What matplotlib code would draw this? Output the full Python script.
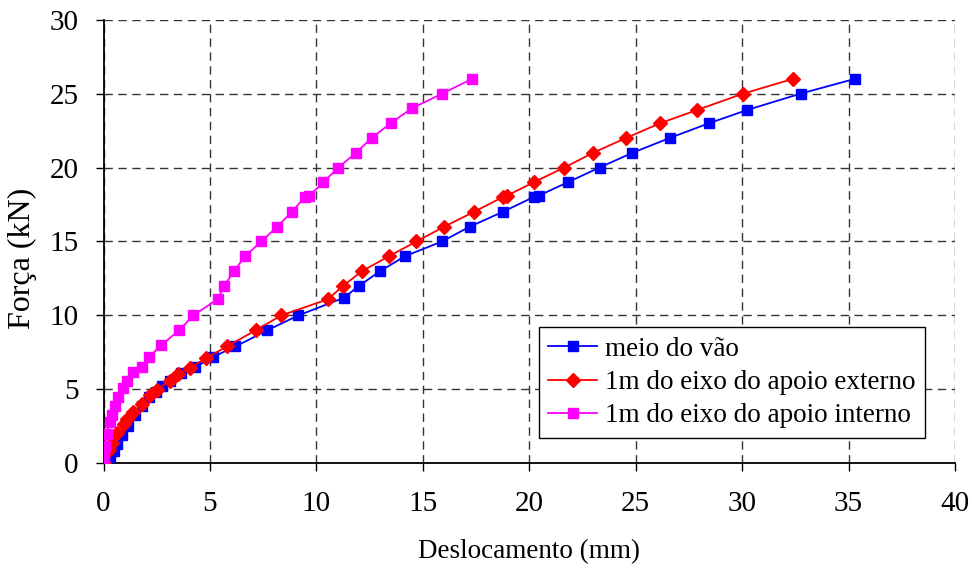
import matplotlib
matplotlib.use("Agg")
import matplotlib.pyplot as plt

# ---- data ----
meio_x = [0, 0.3, 0.5, 0.65, 0.85, 1.15, 1.5, 1.8, 2.15, 2.45, 2.75, 3.1, 3.65, 4.3,
          5.15, 6.2, 7.7, 9.15, 11.3, 12.0, 13.0, 14.15, 15.9, 17.2, 18.75, 20.2, 20.45,
          21.8, 23.3, 24.85, 26.6, 28.45, 30.25, 32.75, 35.3]
meio_y = [0, 0.4, 0.8, 1.3, 1.9, 2.5, 3.3, 3.9, 4.5, 4.8, 5.2, 5.6, 6.1, 6.5,
          7.2, 7.9, 9.0, 10.0, 11.2, 12.0, 13.0, 14.0, 15.0, 16.0, 17.0, 18.0, 18.1,
          19.0, 20.0, 21.0, 22.0, 23.0, 23.9, 25.0, 26.0]

ext_x = [0, 0.25, 0.4, 0.65, 0.95, 1.1, 1.4, 1.8, 2.2, 2.5, 3.1, 3.5, 4.05, 4.8,
         5.8, 7.15, 8.35, 10.55, 11.25, 12.15, 13.4, 14.7, 16.0, 17.4, 18.75, 18.95,
         20.2, 21.65, 23.0, 24.55, 26.15, 27.9, 30.05, 32.4]
ext_y = [0, 0.9, 1.4, 2.05, 2.65, 3.0, 3.45, 4.0, 4.65, 4.95, 5.6, 6.05, 6.45, 7.1,
         7.9, 9.0, 10.0, 11.1, 12.0, 13.0, 14.0, 15.0, 16.0, 17.0, 18.0, 18.1,
         19.0, 20.0, 21.0, 22.0, 23.0, 23.9, 25.0, 26.0]

int_x = [0, 0, 0.07, 0.15, 0.3, 0.38, 0.54, 0.7, 0.9, 1.1, 1.4, 1.8, 2.15, 2.72,
         3.55, 4.22, 5.36, 5.67, 6.13, 6.65, 7.41, 8.16, 8.84, 9.46, 9.67, 10.32,
         11.03, 11.86, 12.6, 13.49, 14.48, 15.91, 17.32]
int_y = [0, 0.6, 1.2, 2.0, 2.8, 3.3, 3.9, 4.5, 5.1, 5.6, 6.2, 6.5, 7.2, 8.0,
         9.0, 10.0, 11.1, 12.0, 13.0, 14.0, 15.0, 16.0, 17.0, 18.0, 18.1, 19.0,
         20.0, 21.0, 22.0, 23.0, 24.0, 25.0, 26.0]

labels = ["meio do vão", "1m do eixo do apoio externo", "1m do eixo do apoio interno"]
xticks = [0, 5, 10, 15, 20, 25, 30, 35, 40]
yticks = [0, 5, 10, 15, 20, 25, 30]

plt.rcParams['font.family'] = ['Liberation Serif', 'DejaVu Serif']
FS = 19.5
TFS = 21

fig = plt.figure(figsize=(9.72, 5.72), dpi=100)
ax = fig.add_axes([0.1065, 0.19, 0.876, 0.7756])

ax.plot(meio_x, meio_y, color='#0000FF', marker='s', markersize=7.5, linewidth=1.3,
        label=labels[0], zorder=3)
ax.plot(ext_x, ext_y, color='#FF0000', marker='D', markersize=7, linewidth=1.3,
        label=labels[1], zorder=4)
ax.plot(int_x, int_y, color='#FF00FF', marker='s', markersize=7.5, linewidth=1.3,
        label=labels[2], zorder=5)

ax.set_xlim(0, 40)
ax.set_ylim(0, 30)
ax.set_xticks(xticks)
ax.set_yticks(yticks)
ax.tick_params(direction='out', length=6, width=1, labelsize=TFS)
ax.tick_params(axis='y', pad=12)
ax.tick_params(axis='x', pad=14)
ax.grid(True, color='#333333', linestyle=(0, (6, 4)), linewidth=1)
ax.set_axisbelow(True)
for s in ['top', 'right']:
    ax.spines[s].set_visible(False)
for s in ['left', 'bottom']:
    ax.spines[s].set_linewidth(1.3)
    ax.spines[s].set_color('black')

ax.set_xlabel("Deslocamento (mm)", fontsize=FS, labelpad=16)
ax.set_ylabel("Força (kN)", fontsize=23)
ax.yaxis.set_label_coords(-0.078, 0.463)

leg = ax.legend(loc='lower right', bbox_to_anchor=(0.965, 0.058), fontsize=FS,
                frameon=True, fancybox=False, edgecolor='black', framealpha=1,
                handlelength=1.8, handletextpad=0.3, borderpad=0.35,
                labelspacing=0.3, borderaxespad=0)
leg.get_frame().set_linewidth(1)

fig.savefig("out.png", dpi=100)
